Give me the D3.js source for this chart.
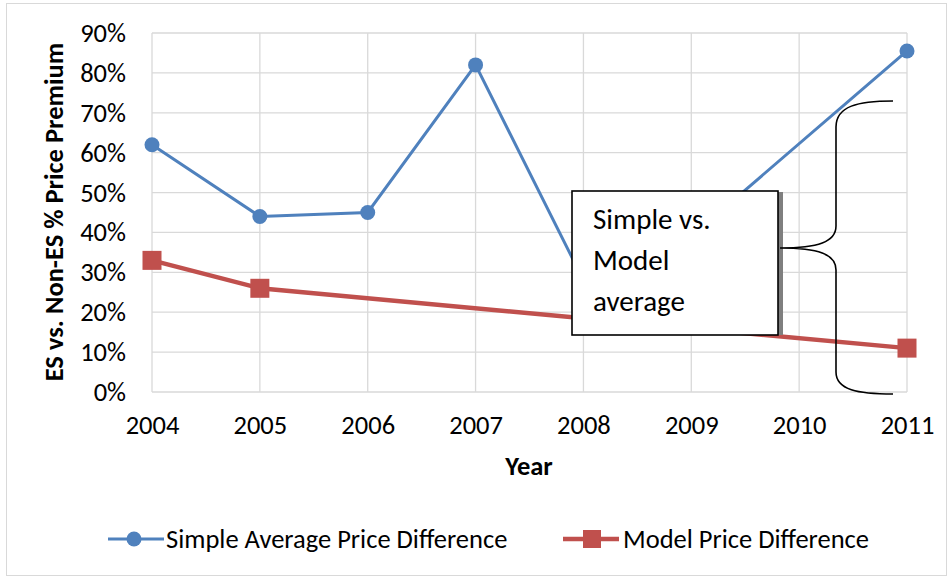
<!DOCTYPE html>
<html>
<head>
<meta charset="utf-8">
<script src="https://cdn.jsdelivr.net/npm/d3@7"></script>
<style>
  body { margin: 0; background: #fff; }
  svg { display: block; font-family: Carlito, Calibri, Lato, sans-serif; }
</style>
</head>
<body>
<svg width="952" height="578"></svg>
<script>
const years = [2004, 2005, 2006, 2007, 2008, 2009, 2010, 2011];
// 2010 missing for the simple average; model only has three points
const simpleAvg = [0.62, 0.44, 0.45, 0.82, 0.28, 0.39, null, 0.855];
const modelDiff = [0.33, 0.26, null, null, null, null, null, 0.11];
const yTicks = [0, 0.1, 0.2, 0.3, 0.4, 0.5, 0.6, 0.7, 0.8, 0.9];
const seriesNames = ['Simple Average Price Difference', 'Model Price Difference'];
const boxLines = ['Simple vs.', 'Model', 'average'];

const blue = '#4f81bd';
const red = '#c0504d';
const grid = '#d9d9d9';

const svg = d3.select('svg');

svg.append('rect')
  .attr('x', 6.5).attr('y', 3.5)
  .attr('width', 940).attr('height', 572)
  .attr('fill', 'none')
  .attr('stroke', grid);

const x = d3.scalePoint()
  .domain(years)
  .range([152, 907]);

const y = d3.scaleLinear()
  .domain([0, 0.9])
  .range([392, 33]);

// gridlines
svg.append('g')
  .selectAll('line')
  .data(yTicks)
  .enter().append('line')
    .attr('x1', 152).attr('x2', 907)
    .attr('y1', d => y(d)).attr('y2', d => y(d))
    .attr('stroke', grid)
    .attr('stroke-width', 1.3);

svg.append('g')
  .selectAll('line')
  .data(years)
  .enter().append('line')
    .attr('x1', d => x(d)).attr('x2', d => x(d))
    .attr('y1', y(0.9)).attr('y2', y(0))
    .attr('stroke', grid)
    .attr('stroke-width', 1.3);

// axes (labels only)
const yAxis = svg.append('g')
  .attr('transform', 'translate(130,0)')
  .call(d3.axisLeft(y).tickValues(yTicks).tickFormat(d3.format('.0%')).tickSize(0).tickPadding(4));
yAxis.attr('font-family', null).attr('font-size', 26.5);
yAxis.select('.domain').remove();
yAxis.selectAll('text').attr('fill', '#000');

const xAxis = svg.append('g')
  .attr('transform', 'translate(0,415)')
  .call(d3.axisBottom(x).tickSize(0).tickPadding(0));
xAxis.attr('font-family', null).attr('font-size', 26.5);
xAxis.select('.domain').remove();
xAxis.selectAll('text').attr('fill', '#000');

svg.append('text')
  .attr('x', 529).attr('y', 475)
  .attr('text-anchor', 'middle')
  .attr('font-size', 26.5)
  .attr('font-weight', 'bold')
  .text('Year');

svg.append('text')
  .attr('transform', 'translate(63,212) rotate(-90)')
  .attr('text-anchor', 'middle')
  .attr('font-size', 26.5)
  .attr('font-weight', 'bold')
  .text('ES vs. Non-ES % Price Premium');

// lines
const line = d3.line()
  .x(d => x(d.year))
  .y(d => y(d.value));

const simplePts = years.map((yr, i) => ({year: yr, value: simpleAvg[i]})).filter(d => d.value != null);
const modelPts = years.map((yr, i) => ({year: yr, value: modelDiff[i]})).filter(d => d.value != null);

svg.append('path')
  .datum(simplePts)
  .attr('d', line)
  .attr('fill', 'none')
  .attr('stroke', blue)
  .attr('stroke-width', 3);

svg.append('g')
  .selectAll('circle')
  .data(simplePts)
  .enter().append('circle')
    .attr('cx', d => x(d.year))
    .attr('cy', d => y(d.value))
    .attr('r', 7.5)
    .attr('fill', blue);

svg.append('path')
  .datum(modelPts)
  .attr('d', line)
  .attr('fill', 'none')
  .attr('stroke', red)
  .attr('stroke-width', 4.5);

svg.append('g')
  .selectAll('rect')
  .data(modelPts)
  .enter().append('rect')
    .attr('x', d => x(d.year) - 9.5)
    .attr('y', d => y(d.value) - 9.5)
    .attr('width', 19).attr('height', 19)
    .attr('fill', red);

// annotation box + brace
svg.append('rect')
  .attr('x', 778).attr('y', 192)
  .attr('width', 5).attr('height', 143)
  .attr('fill', '#7f7f7f');

svg.append('rect')
  .attr('x', 572).attr('y', 191)
  .attr('width', 206).attr('height', 144)
  .attr('fill', '#fff')
  .attr('stroke', '#000')
  .attr('stroke-width', 1.6);

svg.append('g')
  .selectAll('text')
  .data(boxLines)
  .enter().append('text')
    .attr('x', 593)
    .attr('y', (d, i) => 229 + i * 41)
    .attr('font-size', 29)
    .text(d => d);

svg.append('path')
  .attr('d', 'M893,101 C858,101 836,106 836,127 L836,226 C836,242 818,248 780,248 C818,248 836,254 836,270 L836,372 C836,390 858,394 893,394')
  .attr('fill', 'none')
  .attr('stroke', '#000')
  .attr('stroke-width', 1.6);

// legend
const legend = svg.append('g')
  .attr('transform', 'translate(0,539)');

const items = legend.selectAll('g')
  .data(seriesNames)
  .enter().append('g')
    .attr('transform', (d, i) => `translate(${i ? 563 : 108},0)`);

items.append('line')
  .attr('x1', 0).attr('x2', 56)
  .attr('stroke', (d, i) => i ? red : blue)
  .attr('stroke-width', (d, i) => i ? 4.5 : 3);

items.filter((d, i) => i === 0).append('circle')
  .attr('cx', 26).attr('r', 7.5).attr('fill', blue);

items.filter((d, i) => i === 1).append('rect')
  .attr('x', 20).attr('y', -9)
  .attr('width', 18).attr('height', 18)
  .attr('fill', red);

items.append('text')
  .attr('x', (d, i) => i ? 60 : 58)
  .attr('dy', '0.35em')
  .attr('font-size', 26.5)
  .text(d => d);
</script>
</body>
</html>
